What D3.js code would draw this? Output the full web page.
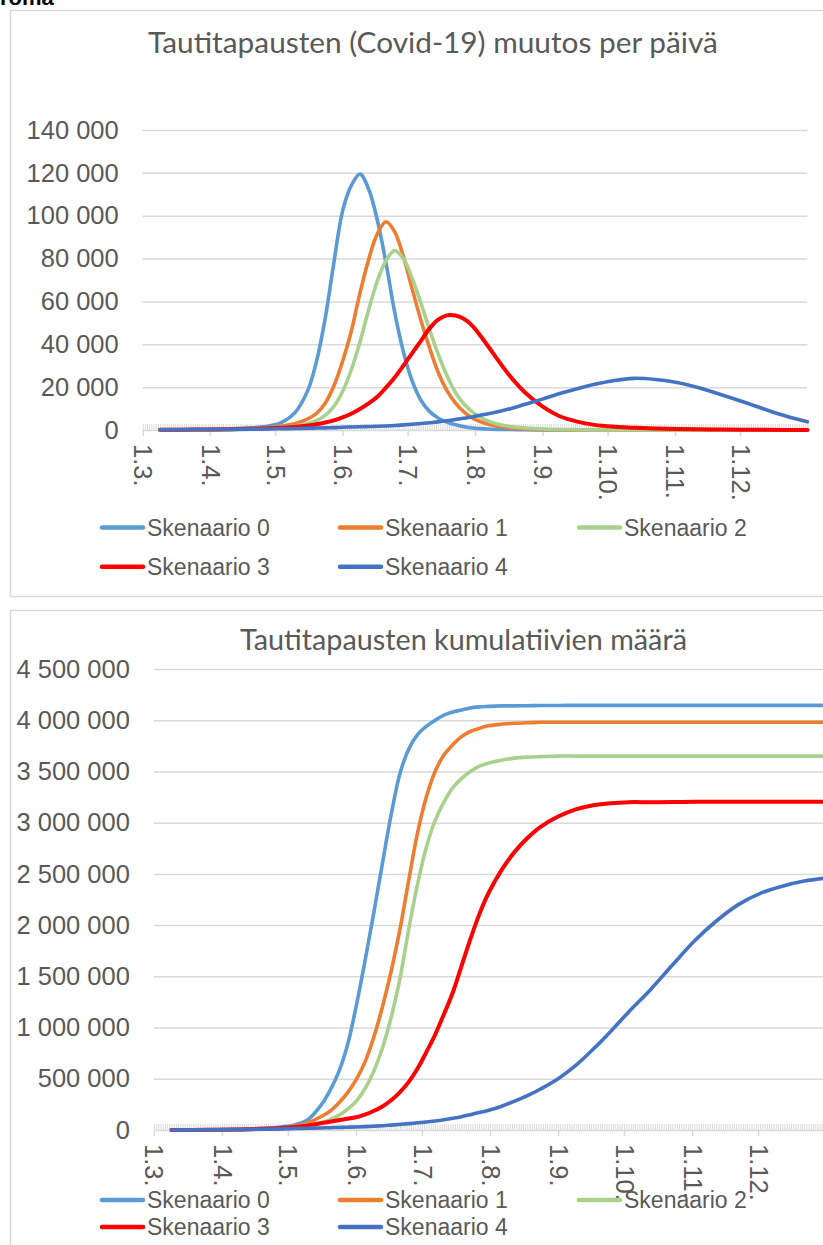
<!DOCTYPE html>
<html><head><meta charset="utf-8">
<script src="https://cdn.jsdelivr.net/npm/d3@7"></script>
<style>
html,body{margin:0;padding:0;background:#fff;}
svg{display:block;}
</style></head>
<body>
<svg id="chart" width="823" height="1245"></svg>
<script>
// ---- data (day offset from 1 March) ----
const days = [8,24,40,50,58,64,70,76,80,84,88,92,96,100,104,108,112,116,120,124,128,132,136,140,144,148,152,158,164,170,176,184,192,200,208,216,226,236,246,256,266,276,286,296,306];
const monthStarts = [0,31,61,92,122,153,184,214,245,275];
const monthLabels = ["1.3.","1.4.","1.5.","1.6.","1.7.","1.8.","1.9.","1.10.","1.11.","1.12."];
const seriesNames = ["Skenaario 0","Skenaario 1","Skenaario 2","Skenaario 3","Skenaario 4"];
const seriesColors = ["#5B9BD5","#ED7D31","#A9D18E","#FF0000","#4472C4"];

// daily change (cases per day)
const daily0 = [100,200,500,1000,1900,3600,8000,18500,32000,52000,78000,102000,114000,119400,112500,98000,78000,55000,36500,23000,14000,8700,5600,3700,2400,1500,900,500,300,200,100,50,30,20,10,0,0,0,0,0,0,0,0,0,0];
const daily1 = [50,100,300,700,1200,1800,2900,5200,7700,12500,20500,32000,46000,63800,79500,91500,97200,92500,81000,66000,51500,38500,27000,18500,12500,8300,5400,3000,1600,800,450,200,100,50,30,20,10,0,0,0,0,0,0,0,0];
const daily2 = [50,100,250,500,900,1300,1800,3000,4400,6800,11000,18000,28000,41000,56000,69500,79000,83700,80000,71000,59500,47000,35500,25500,17500,12000,8200,4600,2600,1500,950,500,250,120,60,30,10,0,0,0,0,0,0,0,0];
const daily3 = [100,200,350,550,800,1100,1500,2100,2700,3500,4500,5900,7600,9800,12400,15500,19800,24500,30000,35800,41500,47300,51500,53500,53400,51800,48400,40500,32000,24000,17500,11000,6400,3900,2400,1600,1100,700,450,300,200,120,80,50,30];
const daily4 = [100,200,300,400,500,600,700,800,900,1000,1100,1300,1400,1500,1600,1750,1900,2100,2400,2700,3000,3400,3800,4300,4900,5500,6200,7300,8600,10200,12000,14400,17000,19300,21300,22900,24100,23600,22200,19700,16600,13300,9800,6500,3800];

// cumulative cases
const cum0 = [0,2000,8000,16000,30000,50000,100000,240000,380000,560000,820000,1200000,1640000,2110000,2600000,3080000,3480000,3720000,3860000,3940000,4000000,4050000,4080000,4100000,4120000,4130000,4135000,4140000,4140000,4142000,4143000,4144000,4145000,4145000,4145000,4145000,4145000,4145000,4145000,4145000,4145000,4145000,4145000,4145000,4145000];
const cum1 = [0,1000,5000,10000,20000,40000,70000,130000,180000,260000,360000,490000,660000,900000,1200000,1550000,1960000,2440000,2900000,3250000,3500000,3660000,3760000,3840000,3890000,3920000,3945000,3960000,3970000,3975000,3980000,3980000,3980000,3980000,3980000,3980000,3980000,3980000,3980000,3980000,3980000,3980000,3980000,3980000,3980000];
const cum2 = [0,1000,4000,8000,15000,30000,50000,70000,100000,140000,200000,280000,400000,570000,800000,1100000,1480000,1960000,2400000,2760000,3020000,3200000,3340000,3430000,3500000,3550000,3580000,3610000,3630000,3640000,3645000,3650000,3650000,3650000,3650000,3650000,3650000,3650000,3650000,3650000,3650000,3650000,3650000,3650000,3650000];
const cum3 = [0,2000,6000,12000,20000,30000,45000,65000,80000,95000,110000,125000,150000,185000,230000,290000,370000,470000,600000,760000,930000,1130000,1340000,1600000,1860000,2100000,2300000,2530000,2710000,2850000,2960000,3060000,3130000,3170000,3190000,3200000,3200000,3202000,3203000,3204000,3205000,3205000,3205000,3205000,3205000];
const cum4 = [0,2000,5000,8000,11000,14000,17000,20000,22000,25000,27000,30000,33000,37000,42000,48000,55000,62000,70000,78000,88000,100000,114000,130000,150000,170000,190000,230000,280000,335000,400000,500000,630000,790000,965000,1150000,1370000,1610000,1845000,2040000,2200000,2310000,2380000,2430000,2460000];

const dailyTicks = [0,20000,40000,60000,80000,100000,120000,140000];
const cumTicks = [0,500000,1000000,1500000,2000000,2500000,3000000,3500000,4000000,4500000];

const dailySeries = [daily0,daily1,daily2,daily3,daily4];
const cumSeries = [cum0,cum1,cum2,cum3,cum4];

// ---- drawing ----
const svg = d3.select("#chart");
const textCol = "#595959", gridCol = "#d9d9d9";
const fmt = d3.formatLocale({decimal:",", thousands:" ", grouping:[3], currency:["","€"]}).format(",d");
const tickFont = "'Liberation Sans', Arial, sans-serif";

// clipped heading text from page above
svg.append("text").attr("x",0).attr("y",5).attr("font-family",tickFont).attr("font-weight","bold")
  .attr("font-size",22).attr("fill","#000").text("roma");

// frames
svg.append("rect").attr("x",10.5).attr("y",10.5).attr("width",840).attr("height",586)
  .attr("fill","none").attr("stroke",gridCol).attr("stroke-width",1.5);
svg.append("rect").attr("x",10.5).attr("y",610.5).attr("width",840).attr("height",700)
  .attr("fill","none").attr("stroke",gridCol).attr("stroke-width",1.5);

function title(txt, cx, y, targetW){
  const t = svg.append("text").attr("x",cx).attr("y",y).attr("text-anchor","middle")
    .attr("font-family","Lato, 'Open Sans', sans-serif").attr("font-size",24).attr("fill",textCol).text(txt);
  const w = t.node().getComputedTextLength();
  t.attr("font-size", 24*targetW/w);
}
title("Tautitapausten (Covid-19) muutos per päivä", 433, 53, 570);
title("Tautitapausten kumulatiivien määrä", 463.5, 650, 447);

function chart(cfg){
  const x = d3.scaleLinear().domain([0,306]).range([cfg.x0, cfg.x1]);
  const y = d3.scaleLinear().domain([0, cfg.ymax]).range([cfg.yb, cfg.yt]);
  const g = svg.append("g");
  // y axis with gridlines
  const ya = g.append("g").attr("transform",`translate(${cfg.x0},0)`)
    .call(d3.axisLeft(y).tickValues(cfg.yticks).tickFormat(fmt).tickSize(-(cfg.gridEnd-cfg.x0)).tickPadding(24));
  ya.select(".domain").remove();
  ya.selectAll(".tick line").attr("stroke",gridCol).attr("stroke-width",1.5);
  ya.selectAll(".tick").filter(d=>d===0).select("line").remove();
  ya.selectAll("text").attr("fill",textCol).attr("font-size",25.5).attr("font-family",tickFont);
  // minor daily ticks
  const mi = g.append("g").attr("transform",`translate(0,${cfg.yb})`)
    .call(d3.axisBottom(x).tickValues(d3.range(0,307)).tickSize(-6).tickFormat(""));
  mi.select(".domain").remove();
  mi.selectAll("line").attr("stroke",gridCol).attr("stroke-width",1);
  // major month ticks + labels
  const xa = g.append("g").attr("transform",`translate(0,${cfg.yb})`)
    .call(d3.axisBottom(x).tickValues(monthStarts).tickFormat((d,i)=>monthLabels[i]).tickSize(6).tickSizeOuter(0));
  xa.select(".domain").attr("stroke",gridCol).attr("stroke-width",1.5).attr("d",`M${cfg.x0},0.5H${cfg.gridEnd}`);
  xa.selectAll(".tick line").attr("stroke",gridCol).attr("stroke-width",1.5);
  xa.selectAll("text").attr("transform","rotate(90)").attr("x",14).attr("y",0).attr("dy","0.35em")
    .attr("text-anchor","start").attr("fill",textCol).attr("font-size",25.5).attr("font-family",tickFont);
  // lines
  const line = d3.line().x((d,i)=>x(days[i])).y(d=>y(d)).curve(d3.curveCatmullRom.alpha(0.5));
  cfg.series.forEach((s,k)=>{
    g.append("path").datum(s).attr("fill","none").attr("stroke",seriesColors[k])
      .attr("stroke-width", k===3?4:3.6).attr("stroke-linejoin","round").attr("stroke-linecap","round").attr("d",line);
  });
  // legend
  const cols = [100,338,577];
  seriesNames.forEach((n,k)=>{
    const cx = cols[k%3], cy = cfg.legY[Math.floor(k/3)];
    g.append("line").attr("x1",cx+2).attr("x2",cx+43).attr("y1",cy).attr("y2",cy)
      .attr("stroke",seriesColors[k]).attr("stroke-width",4.5).attr("stroke-linecap","round");
    g.append("text").attr("x",cx+47).attr("y",cy).attr("dy","0.35em").attr("fill",textCol)
      .attr("font-size",23).attr("font-family",tickFont).text(n);
  });
}

chart({x0:142.7, x1:807.4, gridEnd:807.4, yb:430, yt:130, ymax:140000, yticks:dailyTicks, series:dailySeries, legY:[527.5,566.7]});
chart({x0:153.9, x1:826.2, gridEnd:830, yb:1130, yt:669, ymax:4500000, yticks:cumTicks, series:cumSeries, legY:[1200,1227]});
</script>
</body></html>
